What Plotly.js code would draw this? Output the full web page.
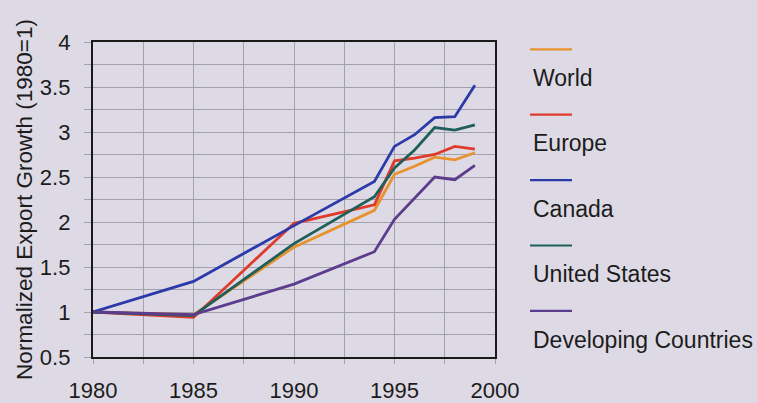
<!DOCTYPE html>
<html>
<head>
<meta charset="utf-8">
<script src="https://cdn.plot.ly/plotly-3.0.1.min.js"></script>
<style>
html,body{margin:0;padding:0;background:#dddae5;}
#chart{width:757px;height:403px;}
</style>
</head>
<body>
<div id="chart"></div>
<script>
// ---- data ----
const years      = [1980, 1985, 1990, 1994, 1995, 1996, 1997, 1998, 1999];
const world      = [1.00, 0.97, 1.72, 2.13, 2.53, 2.62, 2.72, 2.69, 2.77];
const europe     = [1.00, 0.94, 1.985, 2.19, 2.68, 2.71, 2.75, 2.84, 2.81];
const canada     = [1.00, 1.34, 1.96, 2.45, 2.84, 2.97, 3.16, 3.17, 3.52];
const unitedStates = [1.00, 0.96, 1.76, 2.28, 2.60, 2.80, 3.05, 3.02, 3.08];
const developing = [1.00, 0.97, 1.31, 1.67, 2.03, 2.26, 2.50, 2.47, 2.63];

const seriesNames = ["World", "Europe", "Canada", "United States", "Developing Countries"];
const seriesValues = [world, europe, canada, unitedStates, developing];
const seriesColors = ["#e8922e", "#e03a2a", "#2b3aa8", "#1f5f5a", "#5c3c8c"];

const xTickVals = [1980, 1985, 1990, 1995, 2000];
const yTickVals = [0.5, 1, 1.5, 2, 2.5, 3, 3.5, 4];
const yAxisTitle = "Normalized Export Growth (1980=1)";

// ---- build ----
const traces = seriesNames.map((n, i) => ({
  type: "scatter", mode: "lines", name: n,
  x: years, y: seriesValues[i],
  line: {color: seriesColors[i], width: 2.8},
  showlegend: false, hoverinfo: "skip"
}));

const W = 757, H = 403;
const M = {l: 93, r: 262, t: 42, b: 46};
const pw = W - M.l - M.r, ph = H - M.t - M.b;
const px2x = p => (p - M.l) / pw;
const px2y = p => (H - M.b - p) / ph;

const shapes = [], annotations = [];
const rowGap = 65.4;
seriesNames.forEach((n, i) => {
  const ly = 49.3 + i * rowGap;
  const ty = 78 + i * rowGap;
  shapes.push({type: "line", xref: "paper", yref: "paper",
    x0: px2x(530), x1: px2x(572), y0: px2y(ly), y1: px2y(ly),
    line: {color: seriesColors[i], width: 2.2}});
  annotations.push({xref: "paper", yref: "paper", x: px2x(531), y: px2y(ty),
    xanchor: "left", yanchor: "middle", showarrow: false, text: n,
    font: {family: "Liberation Sans, Arial, sans-serif", size: 23, color: "#1c1c1c"}});
});

const gridC = "#a3a1ab";
const layout = {
  width: W, height: H,
  margin: M,
  paper_bgcolor: "#dddae5", plot_bgcolor: "#dddae5",
  font: {family: "Liberation Sans, Arial, sans-serif", color: "#1c1c1c"},
  xaxis: {
    range: [1980, 2000], tickvals: xTickVals, ticktext: xTickVals.map(String),
    showgrid: true, gridcolor: gridC, gridwidth: 1,
    showline: true, linecolor: "#1a1a1a", linewidth: 2.2, mirror: true,
    ticks: "outside", ticklen: 5, tickcolor: gridC, tickwidth: 1,
    ticklabelstandoff: 7,
    minor: {dtick: 2.5, tick0: 1980, showgrid: true, gridcolor: gridC, gridwidth: 1,
            ticks: "outside", ticklen: 5, tickcolor: gridC},
    tickfont: {size: 22}, zeroline: false, fixedrange: true
  },
  yaxis: {
    range: [0.5, 4], tickvals: yTickVals, ticktext: yTickVals.map(String),
    showgrid: true, gridcolor: gridC, gridwidth: 1,
    showline: true, linecolor: "#1a1a1a", linewidth: 2.2, mirror: true,
    ticks: "outside", ticklen: 7, tickcolor: gridC, tickwidth: 1,
    ticklabelstandoff: 9,
    minor: {dtick: 0.25, tick0: 0.5, showgrid: true, gridcolor: gridC, gridwidth: 1,
            ticks: "outside", ticklen: 7, tickcolor: gridC},
    tickfont: {size: 22}, zeroline: false, fixedrange: true,
    title: {text: yAxisTitle, font: {size: 22.5}, standoff: 1}
  },
  shapes: shapes,
  annotations: annotations,
  showlegend: false
};

Plotly.newPlot("chart", traces, layout, {staticPlot: true, displayModeBar: false});
</script>
</body>
</html>
